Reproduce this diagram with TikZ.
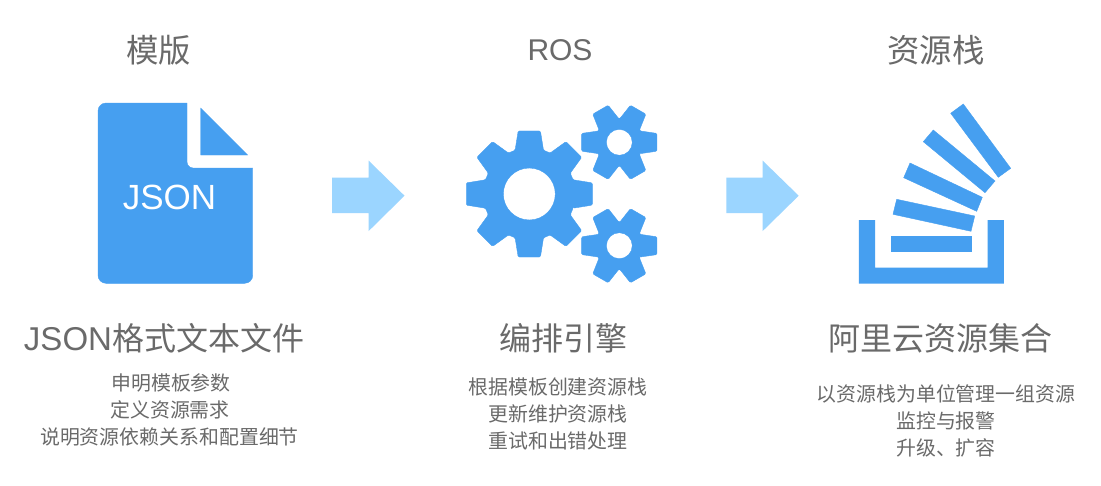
\documentclass[tikz,border=0pt]{standalone}
\usepackage{fontspec}
\setmainfont{Noto Sans CJK SC}[BoldFont=Noto Sans CJK SC]
\newfontfamily\latinfont{Liberation Sans}
\definecolor{iconblue}{HTML}{469FF0}
\definecolor{arrowblue}{HTML}{9BD5FF}
\definecolor{textgray}{HTML}{6A6A6A}
\tikzset{
  x=1pt,y=-1pt,
  icon/.style={fill=iconblue,draw=iconblue,line width=0.4pt},
  bigarrow/.style={fill=arrowblue,draw=none},
  title/.style={text=textgray,font=\fontsize{32.4}{32.4}\selectfont,anchor=center,inner sep=0pt},
  subhead/.style={text=textgray,font=\fontsize{32}{32}\selectfont,anchor=center,inner sep=0pt},
  body/.style={text=textgray,font=\fontsize{19.9}{19.9}\selectfont,anchor=center,inner sep=0pt}
}
\newcommand{\gearshape}[8]{% cx cy outer root teeth hole tophalf basehalf
  \pgfmathsetmacro{\stepang}{360/#5}
  \path[icon,even odd rule,rounded corners=1.2pt]
    ({#1+#4*cos(-#8)},{#2-#4*sin(-#8)})
    \foreach \k in {0,...,\numexpr#5-1\relax}{
      \pgfextra{\pgfmathsetmacro{\a}{\k*\stepang}}
      -- ({#1+#4*cos(\a-#8)},{#2-#4*sin(\a-#8)})
      -- ({#1+#3*cos(\a-#7)},{#2-#3*sin(\a-#7)})
      -- ({#1+#3*cos(\a+#7)},{#2-#3*sin(\a+#7)})
      -- ({#1+#4*cos(\a+#8)},{#2-#4*sin(\a+#8)})
    } -- cycle
    (#1,#2) circle [radius=#6];
}
\begin{document}
\begin{tikzpicture}
\useasboundingbox (0,0) rectangle (1101,485);
\fill[white] (0,0) rectangle (1101,485);
% titles
\node[title] (t1) at (158.5,50) {模版};
\node[title,font=\latinfont\fontsize{30}{30}\selectfont] (t2) at (560,50) {ROS};
\node[title] (t3) at (936,50) {资源栈};
% file icon
\fill[icon] (187,103) -- (106,103) .. controls (101.6,103) and (98,106.6) .. (98,111)
  -- (98,275.3) .. controls (98,279.7) and (101.6,283.3) .. (106,283.3)
  -- (244.7,283.3) .. controls (249.1,283.3) and (252.7,279.7) .. (252.7,275.3)
  -- (252.7,168) -- (193,168) .. controls (189.7,168) and (187,165.3) .. (187,162) -- cycle;
\fill[icon] (200.7,108) -- (247.7,155) -- (200.7,155) -- cycle;
\node[text=white,inner sep=0pt,font=\latinfont\fontsize{35}{35}\selectfont] (js) at (169.5,197) {JSON};
% arrows
\fill[bigarrow] (332,177.7) -- (368.7,177.7) -- (368.7,160.7) -- (404.5,195.7) -- (368.7,231) -- (368.7,213) -- (332,213) -- cycle;
\fill[bigarrow] (726.3,177.7) -- (762.7,177.7) -- (762.7,160.7) -- (798.7,195.7) -- (762.7,231) -- (762.7,213) -- (726.3,213) -- cycle;
% gears
\gearshape{529.3}{194}{64}{46}{8}{26}{10}{18}
\gearshape{619.3}{142.3}{38.7}{23.5}{6}{13}{13.3}{29}
\gearshape{619.3}{245.7}{38.7}{23.5}{6}{13}{13.3}{29}
% stack
\fill[iconblue] (858.8,220) -- (875.2,220) -- (875.2,267.5) -- (987.5,267.5) -- (987.5,220) -- (1003.9,220) -- (1003.9,283.5) -- (858.8,283.5) -- cycle;
\fill[icon] (891,235.7) rectangle (971.3,251.3);
\fill[icon] (896.7,199.3) -- (974.7,216) -- (971,231.3) -- (893,214.3) -- cycle;
\fill[icon] (910,163) -- (982.3,197.3) -- (976.7,211.3) -- (903.7,177.7) -- cycle;
\fill[icon] (933.3,130) -- (995,181) -- (985,192.7) -- (923.3,141.7) -- cycle;
\fill[icon] (963.3,104) -- (1010.7,168.3) -- (998.3,177.3) -- (950.7,113.3) -- cycle;
% text
\node[subhead] (s1) at (164,338) {{\latinfont\fontsize{33}{33}\selectfont JSON}格式文本文件};
\node[subhead] (s2) at (563,338) {编排引擎};
\node[subhead] (s3) at (940.5,338) {阿里云资源集合};
\node[body] (a1) at (171,383) {申明模板参数};
\node[body] (a2) at (170,410) {定义资源需求};
\node[body] (a3) at (169.5,437) {说明资源依赖关系和配置细节};
\node[body] (b1) at (558,387) {根据模板创建资源栈};
\node[body] (b2) at (558,414) {更新维护资源栈};
\node[body] (b3) at (558,441) {重试和出错处理};
\node[body] (c1) at (946,393.5) {以资源栈为单位管理一组资源};
\node[body] (c2) at (946,421) {监控与报警};
\node[body] (c3) at (946,448) {升级、扩容};
\end{tikzpicture}
\end{document}
